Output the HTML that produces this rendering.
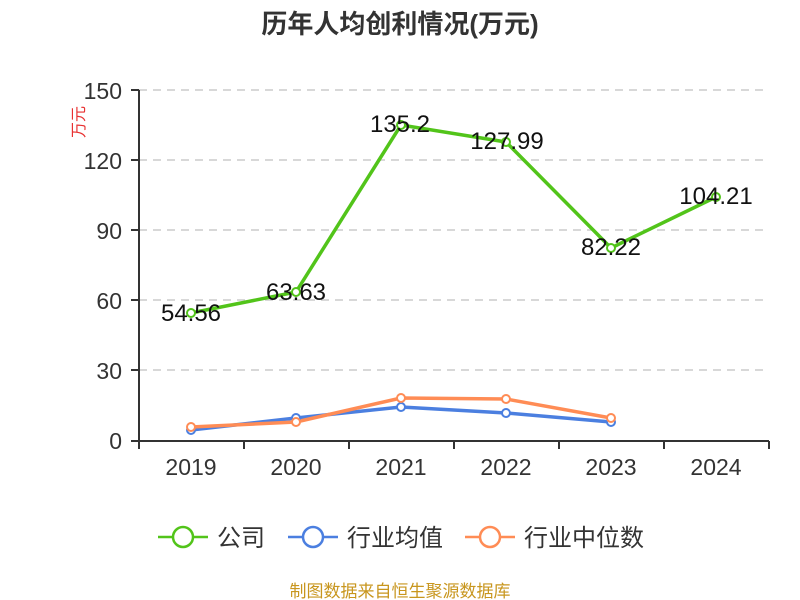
<!DOCTYPE html>
<html><head><meta charset="utf-8"><style>body{margin:0;background:#fff}svg{display:block}</style></head><body>
<svg width="800" height="600" xmlns="http://www.w3.org/2000/svg" font-family="Liberation Sans, Noto Sans CJK SC, sans-serif">
<text x="400" y="33" text-anchor="middle" font-size="26" font-weight="bold" fill="#333">历年人均创利情况(万元)</text>
<text transform="translate(84,122) rotate(-90)" text-anchor="middle" font-size="16" fill="#e83030">万元</text>
<g stroke="#ccc" stroke-dasharray="8,6" stroke-width="1.5">
<line x1="139" x2="769" y1="90" y2="90"/><line x1="139" x2="769" y1="160" y2="160"/><line x1="139" x2="769" y1="230" y2="230"/><line x1="139" x2="769" y1="300" y2="300"/><line x1="139" x2="769" y1="370" y2="370"/>
</g>
<g stroke="#333" stroke-width="2">
<line x1="139" x2="139" y1="90" y2="441"/><line x1="139" x2="769" y1="441" y2="441"/>
<line x1="131" x2="139" y1="90" y2="90"/><line x1="131" x2="139" y1="160" y2="160"/><line x1="131" x2="139" y1="230" y2="230"/><line x1="131" x2="139" y1="300" y2="300"/><line x1="131" x2="139" y1="370" y2="370"/><line x1="131" x2="139" y1="441" y2="441"/>
<line x1="139" x2="139" y1="441" y2="449"/><line x1="244" x2="244" y1="441" y2="449"/><line x1="349" x2="349" y1="441" y2="449"/><line x1="454" x2="454" y1="441" y2="449"/><line x1="559" x2="559" y1="441" y2="449"/><line x1="664" x2="664" y1="441" y2="449"/><line x1="769" x2="769" y1="441" y2="449"/>
</g>
<g font-size="23" fill="#333" text-anchor="end">
<text x="122" y="99">150</text><text x="122" y="169">120</text><text x="122" y="239">90</text><text x="122" y="309">60</text><text x="122" y="379">30</text><text x="122" y="449">0</text>
</g>
<g font-size="23" fill="#333" text-anchor="middle">
<text x="191" y="475">2019</text><text x="296" y="475">2020</text><text x="401" y="475">2021</text><text x="506" y="475">2022</text><text x="611" y="475">2023</text><text x="716" y="475">2024</text>
</g>
<g fill="none" stroke-width="3.5" stroke-linejoin="round">
<polyline stroke="#4b7fe0" points="191,430 296,418 401,407 506,413 611,422"/>
<polyline stroke="#ff8c55" points="191,427 296,422 401,398 506,399 611,418"/>
<polyline stroke="#52c41a" points="191,313 296,292 401,125 506,142 611,248 716,197"/>
</g>
<g fill="#fff" stroke-width="2">
<g stroke="#4b7fe0"><circle cx="191" cy="430" r="4"/><circle cx="296" cy="418" r="4"/><circle cx="401" cy="407" r="4"/><circle cx="506" cy="413" r="4"/><circle cx="611" cy="422" r="4"/></g>
<g stroke="#ff8c55"><circle cx="191" cy="427" r="4"/><circle cx="296" cy="422" r="4"/><circle cx="401" cy="398" r="4"/><circle cx="506" cy="399" r="4"/><circle cx="611" cy="418" r="4"/></g>
<g stroke="#52c41a"><circle cx="191" cy="313" r="4"/><circle cx="296" cy="292" r="4"/><circle cx="401" cy="125" r="4"/><circle cx="506" cy="142" r="4"/><circle cx="611" cy="248" r="4"/><circle cx="716" cy="197" r="4"/></g>
</g>
<g font-size="24" fill="#111" text-anchor="middle">
<text x="191" y="321">54.56</text><text x="296" y="300">63.63</text><text x="400" y="132">135.2</text><text x="507" y="149">127.99</text><text x="611" y="255">82.22</text><text x="716" y="204">104.21</text>
</g>
<g stroke-width="2.5" fill="#fff">
<line x1="158" x2="208" y1="537" y2="537" stroke="#52c41a"/><circle cx="183" cy="537" r="10" stroke="#52c41a"/>
<line x1="288" x2="338" y1="537" y2="537" stroke="#4b7fe0"/><circle cx="313" cy="537" r="10" stroke="#4b7fe0"/>
<line x1="465" x2="515" y1="537" y2="537" stroke="#ff8c55"/><circle cx="490" cy="537" r="10" stroke="#ff8c55"/>
</g>
<g font-size="24" fill="#333">
<text x="217" y="546">公司</text><text x="347" y="546">行业均值</text><text x="524" y="546">行业中位数</text>
</g>
<text x="400" y="597" text-anchor="middle" font-size="17" fill="#c8961e">制图数据来自恒生聚源数据库</text>
</svg>
</body></html>
